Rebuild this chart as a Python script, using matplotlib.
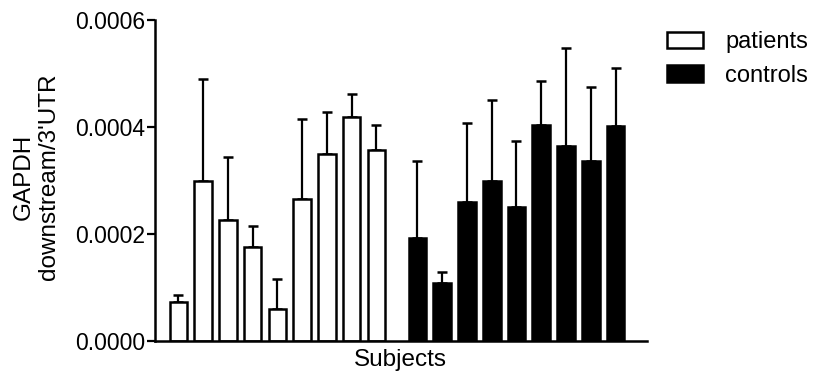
import numpy as np
import matplotlib
matplotlib.use('Agg')
import matplotlib.pyplot as plt
from matplotlib.patches import Patch
from matplotlib.ticker import FormatStrFormatter

plt.rcParams['font.family'] = ['Liberation Sans', 'DejaVu Sans']

# значения
patients = [0.000073, 0.000298, 0.000226, 0.000175, 0.000059, 0.000265, 0.000349, 0.000419, 0.000357]
patients_err = [0.000013, 0.000192, 0.000117, 0.000040, 0.000056, 0.000150, 0.000078, 0.000042, 0.000046]
controls = [0.000193, 0.000108, 0.000259, 0.000298, 0.000251, 0.000403, 0.000365, 0.000337, 0.000401]
controls_err = [0.000143, 0.000020, 0.000148, 0.000152, 0.000122, 0.000083, 0.000183, 0.000138, 0.000110]
yticks = [0.0, 0.0002, 0.0004, 0.0006]

fig = plt.figure(figsize=(8.15, 3.77), dpi=100)
ax = fig.add_axes([0.190, 0.0963, 0.6035, 0.8507])

width = 0.71
x_p = np.arange(len(patients))
x_c = np.arange(len(controls)) + 9.66

ax.bar(x_p, patients, width, color='white', edgecolor='black', linewidth=1.8, zorder=2)
ax.bar(x_c, controls, width, color='black', edgecolor='black', linewidth=1.8, zorder=2)
ax.errorbar(x_p, patients, yerr=[np.zeros(len(patients)), patients_err], fmt='none',
            ecolor='black', elinewidth=1.6, capsize=3.8, capthick=1.8, zorder=1)
ax.errorbar(x_c, controls, yerr=[np.zeros(len(controls)), controls_err], fmt='none',
            ecolor='black', elinewidth=1.6, capsize=3.8, capthick=1.8, zorder=1)

ax.set_xlim(-0.95, 18.92)
ax.set_ylim(0, 0.0006)
ax.set_yticks(yticks)
ax.yaxis.set_major_formatter(FormatStrFormatter('%.4f'))
ax.set_xticks([])
ax.tick_params(axis='y', length=6, width=1.6, labelsize=16.5, pad=1)
for s in ['top', 'right']:
    ax.spines[s].set_visible(False)
for s in ['left', 'bottom']:
    ax.spines[s].set_linewidth(1.8)

ax.set_xlabel('Subjects', fontsize=17.5, labelpad=6)
fig.text(36 / 815, 0.53, "GAPDH\ndownstream/3'UTR", rotation=90, ha='center', va='center',
         fontsize=17.5, multialignment='center', linespacing=1.2)

handles = [Patch(facecolor='white', edgecolor='black', linewidth=1.8, label='patients'),
           Patch(facecolor='black', edgecolor='black', linewidth=1.8, label='controls')]
fig.legend(handles=handles, loc='upper left', bbox_to_anchor=(0.818, 0.918), frameon=False,
           fontsize=17, handlelength=1.52, handleheight=0.68, handletextpad=0.97,
           labelspacing=0.5, borderpad=0, borderaxespad=0)

plt.savefig('out.png', dpi=100)
